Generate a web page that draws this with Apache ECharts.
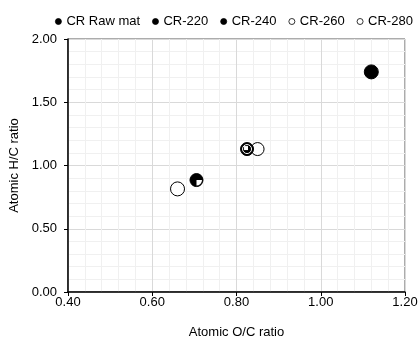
<!DOCTYPE html>
<html>
<head>
<meta charset="utf-8">
<script src="https://cdn.jsdelivr.net/npm/echarts@6/dist/echarts.min.js"></script>
<style>
  html, body { margin: 0; padding: 0; background: #fff; }
  #chart { width: 419px; height: 339px; }
</style>
</head>
<body>
<div id="chart"></div>
<script>
// data: [O/C, H/C]
var seriesNames = ['CR Raw mat', 'CR-220', 'CR-240', 'CR-260', 'CR-280'];
var rawMat = [[1.12, 1.74]];
var cr220 = [[0.825, 1.13]];
var cr240 = [[0.705, 0.885]];
var cr260 = [[0.66, 0.815]];
var cr280 = [[0.85, 1.13]];

var font = 'Liberation Sans, Arial, sans-serif';
var myChart = echarts.init(document.getElementById('chart'));

var openStyle = { color: '#fff', borderColor: '#000', borderWidth: 1, opacity: 1 };
var fullStyle = { color: '#000', borderColor: '#000', borderWidth: 1, opacity: 1 };

var option = {
  animation: false,
  backgroundColor: '#fff',
  textStyle: { fontFamily: font },
  legend: {
    data: seriesNames.map(function (n) { return { name: n, icon: 'circle' }; }),
    left: 55,
    top: 15,
    width: 400,
    padding: 0,
    itemWidth: 6,
    itemHeight: 6,
    itemGap: 12,
    itemStyle: { borderWidth: 0.8 },
    textStyle: { fontFamily: font, fontSize: 13, color: '#000' }
  },
  grid: {
    left: 68, right: 14, top: 39, bottom: 47,
    outerBoundsMode: 'none',
    show: true, borderColor: '#595959', borderWidth: 1
  },
  xAxis: {
    type: 'value',
    min: 0.4, max: 1.2, interval: 0.2,
    name: 'Atomic O/C ratio',
    nameLocation: 'middle',
    nameGap: 34,
    nameTextStyle: { fontFamily: font, fontSize: 13, color: '#000' },
    axisLine: { show: true, onZero: false, lineStyle: { color: '#000', width: 1.5 } },
    axisTick: { show: true, length: 4, lineStyle: { color: '#000' } },
    axisLabel: { margin: 4, fontFamily: font, fontSize: 13, color: '#000',
      formatter: function (v) { return v.toFixed(2); } },
    splitLine: { show: true, lineStyle: { color: '#d9d9d9', width: 1 } },
    minorTick: { show: false, splitNumber: 5 },
    minorSplitLine: { show: true, lineStyle: { color: '#f0f0f0', width: 1 } }
  },
  yAxis: {
    type: 'value',
    min: 0, max: 2, interval: 0.5,
    name: 'Atomic H/C ratio',
    nameLocation: 'middle',
    nameGap: 45,
    nameTextStyle: { fontFamily: font, fontSize: 13, color: '#000' },
    axisLine: { show: true, onZero: false, lineStyle: { color: '#000', width: 1.5 } },
    axisTick: { show: true, length: 4, lineStyle: { color: '#000' } },
    axisLabel: { margin: 11, fontFamily: font, fontSize: 13, color: '#000',
      formatter: function (v) { return v.toFixed(2); } },
    splitLine: { show: true, lineStyle: { color: '#d9d9d9', width: 1 } },
    minorTick: { show: false, splitNumber: 5 },
    minorSplitLine: { show: true, lineStyle: { color: '#f0f0f0', width: 1 } }
  },
  series: [
    { name: 'CR Raw mat', type: 'scatter', data: rawMat, symbol: 'circle', symbolSize: 14, itemStyle: fullStyle, z: 3 },
    { name: 'CR-220', type: 'scatter', data: cr220, symbol: 'circle', symbolSize: 13, itemStyle: fullStyle, z: 4 },
    { name: 'CR-240', type: 'scatter', data: cr240, symbol: 'circle', symbolSize: 13, itemStyle: fullStyle, z: 3 },
    { name: 'CR-260', type: 'scatter', data: cr260, symbol: 'circle', symbolSize: 14, itemStyle: openStyle, z: 3 },
    { name: 'CR-280', type: 'scatter', data: cr280, symbol: 'circle', symbolSize: 13, itemStyle: openStyle, z: 3 },
    // fill patterns drawn on top of the CR-220 and CR-240 markers
    { name: 'CR-220 ring', type: 'scatter', data: cr220, symbol: 'circle', symbolSize: 9,
      itemStyle: { color: 'rgba(0,0,0,0)', borderColor: '#fff', borderWidth: 1, opacity: 1 }, z: 5, silent: true },
    { name: 'CR-220 dot', type: 'scatter', data: cr220, symbol: 'rect', symbolSize: 4, symbolOffset: [-1, -1],
      itemStyle: { color: '#fff', opacity: 1 }, z: 5, silent: true },
    { name: 'CR-240 cut', type: 'scatter', data: cr240,
      symbol: 'path://M0,0 L10,0 A10,10 0 0 1 0,10 Z', symbolSize: 5.5, symbolOffset: [2.75, 2.75],
      itemStyle: { color: '#fff', opacity: 1 }, z: 5, silent: true }
  ]
};

myChart.setOption(option);
</script>
</body>
</html>
